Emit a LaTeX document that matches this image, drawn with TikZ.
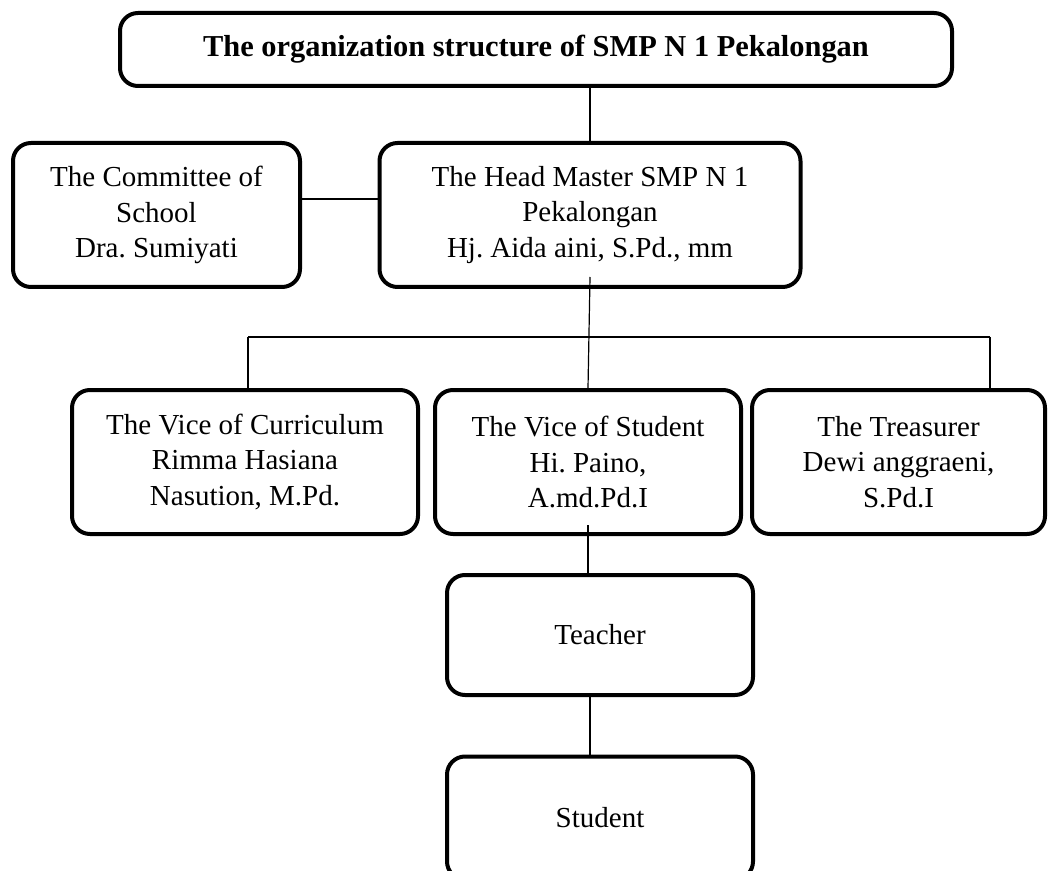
\documentclass[tikz,border=0pt]{standalone}
\usepackage{fontspec}
\setmainfont{Liberation Serif}
\frenchspacing

\begin{document}
\begin{tikzpicture}[x=0.5pt,y=-0.5pt,
  orgbox/.style={draw,line width=2pt,rounded corners=9pt,align=center,inner sep=0pt,
    font=\fontsize{14.5}{17.75}\selectfont},
  link/.style={line width=0.6pt}]

  \useasboundingbox (0,0) rectangle (1048,871);

  % title box
  \node[orgbox,minimum width=416pt,minimum height=36.5pt,
    font=\bfseries\fontsize{15.2}{18}\selectfont] (title) at (536,49.5)
    {The organization structure of SMP N 1 Pekalongan};

  % committee and head master
  \node[orgbox,minimum width=143.5pt,minimum height=72pt] (comm) at (156.5,215)
    {The Committee of\\School\\Dra. Sumiyati};
  \node[orgbox,minimum width=210.5pt,minimum height=72pt] (head) at (590,215)
    {The Head Master SMP N 1\\Pekalongan\\Hj. Aida aini, S.Pd., mm};

  % the three vices
  \node[orgbox,minimum width=173pt,minimum height=72pt] (vcur) at (245,462)
    {The Vice of Curriculum\\Rimma Hasiana\\Nasution, M.Pd.};
  \node[orgbox,minimum width=153pt,minimum height=72pt] (vstu) at (588,462)
    {The Vice of Student\\Hi. Paino,\\A.md.Pd.I};
  \node[orgbox,minimum width=146.5pt,minimum height=72pt] (treas) at (898.5,462)
    {The Treasurer\\Dewi anggraeni,\\S.Pd.I};

  % teacher and student
  \node[orgbox,minimum width=153pt,minimum height=60pt] (teach) at (600,635) {Teacher};
  \node[orgbox,minimum width=153pt,minimum height=61.5pt] (stud) at (600,818) {Student};

  % bus line ends
  \coordinate (busL) at (248,337);
  \coordinate (busR) at (990,337);

  % connectors
  \draw[link] (head.north) -- (head.north |- title.south);
  \draw[link] ([yshift=8pt]comm.east) -- ([yshift=8pt]head.west);
  \draw[link] ([yshift=6pt]head.south) -- (vstu.north);
  \draw[link] (busL) -- (busR);
  \draw[link] (busL) -- (busL |- vcur.north);
  \draw[link] (busR) -- (busR |- treas.north);
  \draw[link] ([yshift=5.5pt]vstu.south) -- (vstu.south |- teach.north);
  \draw[link] ([xshift=-5pt]teach.south) -- ([xshift=-5pt]stud.north);

\end{tikzpicture}
\end{document}
